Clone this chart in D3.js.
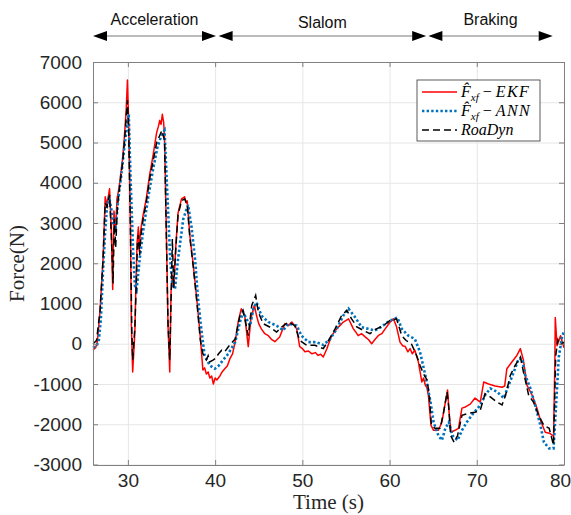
<!DOCTYPE html>
<html>
<head>
<meta charset="utf-8">
<script src="https://cdn.jsdelivr.net/npm/d3@7"></script>
<style>
  body { margin: 0; background: #fff; }
  svg { display: block; }
</style>
</head>
<body>
<div id="chart"></div>
<script>
var w = 571; // page width
var h = 515; // page height
var margin = { top: 62, right: 7, bottom: 50, left: 93 };

// tick values
var xTicks = [30, 40, 50, 60, 70, 80];
var yTicks = [-3000, -2000, -1000, 0, 1000, 2000, 3000, 4000, 5000, 6000, 7000];

// test phases shown above the plot [name, start time, end time]
var phases = [
    ["Acceleration", 26, 40.1],
    ["Slalom", 40.4, 64.2],
    ["Braking", 64.45, 78.7]
];

// F_xf estimated by EKF  [time (s), force (N)]
var ekf = [
    [26.0,-150],[26.3,-100],[26.5,50],[26.8,800],[27.15,2100],[27.4,3650],[27.6,3450],[27.9,3850],
    [28.1,2800],[28.26,1350],[28.4,3300],[28.6,2800],[28.75,3600],[29.0,3900],[29.4,4600],[29.6,5150],
    [29.8,5800],[29.95,6550],[30.1,5400],[30.3,2800],[30.4,450],[30.55,-700],[30.8,300],[30.9,1300],
    [31.05,2500],[31.2,2900],[31.3,2300],[31.45,2800],[31.75,3200],[32.1,3600],[32.5,4200],[32.9,4700],
    [33.3,5250],[33.5,5400],[33.65,5550],[33.8,5450],[33.95,5700],[34.1,5500],[34.2,5100],[34.4,2900],
    [34.6,450],[34.8,-700],[34.95,1300],[35.1,1700],[35.25,1400],[35.5,2450],[35.75,3250],[36.15,3600],
    [36.5,3650],[36.7,3500],[36.8,3550],[37.1,2700],[37.5,1950],[37.9,1100],[38.25,300],[38.6,-650],
    [38.8,-600],[39.0,-750],[39.2,-700],[39.4,-850],[39.6,-800],[39.8,-1000],[40.0,-850],[40.2,-900],
    [40.55,-800],[40.8,-700],[41.1,-620],[41.4,-550],[41.7,-370],[42.0,-250],[42.3,50],[42.65,550],
    [43.0,870],[43.4,700],[43.8,-70],[44.1,620],[44.5,950],[44.75,700],[45.0,500],[45.3,370],[45.7,250],
    [46.1,200],[46.5,100],[46.85,50],[47.4,170],[48.0,500],[48.4,450],[48.8,540],[49.35,370],[49.7,-70],
    [50.0,-120],[50.3,-200],[50.7,-180],[51.1,-250],[51.5,-220],[51.8,-290],[52.1,-260],[52.4,-330],
    [52.8,-130],[53.35,200],[53.95,370],[54.3,450],[54.7,540],[55.3,620],[55.85,370],[56.1,300],
    [56.4,200],[56.8,250],[57.2,170],[57.6,100],[57.95,0],[58.3,100],[58.7,200],[59.1,250],[59.5,370],
    [60.07,540],[60.45,620],[60.8,420],[61.2,40],[61.5,-50],[61.8,-70],[62.1,-200],[62.35,-120],
    [62.6,-250],[62.9,-160],[63.3,-450],[63.5,-700],[63.7,-950],[63.9,-850],[64.1,-1030],[64.3,-1100],
    [64.45,-1280],[64.75,-2030],[65.05,-2150],[65.6,-2150],[66.0,-1950],[66.4,-1450],[66.65,-1150],
    [66.85,-1780],[67.05,-2200],[67.5,-2150],[67.9,-2100],[68.3,-1600],[68.7,-1570],[69.25,-1500],
    [69.8,-1350],[70.4,-1450],[70.8,-950],[71.35,-1000],[72.1,-1050],[72.9,-1080],[73.2,-1050],
    [73.45,-620],[74.0,-460],[74.6,-290],[75.0,-120],[75.35,-410],[75.75,-1030],[76.35,-1280],
    [76.9,-1600],[77.3,-1900],[77.85,-2200],[78.4,-2230],[78.8,-2300],[78.95,-500],[79.0,650],
    [79.2,-50],[79.6,200],[80.0,-100]
];

// F_xf estimated by ANN
var ann = [
    [26.0,-100],[26.4,-50],[26.65,50],[26.9,600],[27.15,1800],[27.4,2800],[27.6,3400],[27.85,3650],
    [28.1,3350],[28.3,3000],[28.6,2900],[28.9,3600],[29.25,4200],[29.6,4900],[29.9,5400],[30.1,5700],
    [30.3,4150],[30.6,2300],[30.8,1450],[31.0,1350],[31.35,2100],[31.75,2800],[32.3,3600],[32.9,4350],
    [33.4,4900],[33.9,5200],[34.2,5300],[34.6,3350],[34.85,2100],[35.1,1450],[35.4,1370],[35.75,2100],
    [36.35,3100],[36.9,3450],[37.3,2900],[37.7,2100],[38.05,1100],[38.45,300],[38.8,-290],[39.4,-540],
    [39.97,-620],[40.4,-550],[40.75,-450],[41.5,-250],[42.3,40],[42.85,540],[43.2,790],[43.6,620],
    [44.0,450],[44.4,870],[44.75,1030],[45.3,700],[46.1,540],[47.05,450],[47.8,330],[48.4,500],
    [49.35,450],[49.9,200],[50.7,40],[51.6,40],[52.4,-30],[53.2,120],[53.95,370],[54.7,700],[55.3,870],
    [56.05,660],[56.8,410],[57.55,370],[58.3,330],[59.0,410],[59.8,540],[60.5,620],[60.9,650],[61.4,370],
    [62.15,200],[62.9,120],[63.5,-210],[64.1,-780],[64.7,-1450],[65.05,-1950],[65.6,-2280],[66.0,-2400],
    [66.4,-2100],[66.8,-1950],[67.2,-2280],[67.8,-2400],[68.3,-2150],[68.85,-1950],[69.6,-1730],
    [70.4,-1530],[70.95,-1280],[71.55,-1110],[72.3,-1190],[73.1,-1350],[73.65,-1030],[74.25,-700],
    [74.8,-370],[75.2,-370],[75.55,-780],[76.15,-1110],[76.7,-1530],[77.3,-2030],[77.7,-2450],
    [78.3,-2600],[78.8,-2600],[79.2,-1110],[79.4,-330],[79.8,200],[80.0,300]
];

// measured by RoaDyn wheel
var roaDyn = [
    [26.0,0],[26.4,80],[26.8,800],[27.15,2100],[27.4,3500],[27.6,3400],[27.9,3700],[28.1,2700],
    [28.3,1500],[28.45,3100],[28.6,2400],[28.8,3400],[29.0,3800],[29.4,4500],[29.6,5000],[29.8,5600],
    [29.95,6050],[30.1,5200],[30.3,2700],[30.45,300],[30.55,-400],[30.8,400],[30.95,1400],[31.1,2500],
    [31.2,2700],[31.35,2200],[31.5,2700],[31.75,3100],[32.1,3500],[32.5,4100],[32.9,4550],[33.3,5000],
    [33.6,5150],[33.9,5300],[34.2,5050],[34.4,2800],[34.6,500],[34.8,-400],[34.95,1100],[35.1,2600],
    [35.25,1400],[35.5,2400],[35.75,3200],[36.15,3550],[36.5,3600],[36.8,3450],[37.1,2650],[37.5,1900],
    [37.9,1050],[38.3,100],[38.6,-250],[39.0,-400],[39.2,-300],[39.4,-450],[39.8,-400],[40.0,-370],
    [40.4,-250],[40.75,-160],[41.1,-200],[41.5,-80],[42.3,120],[42.85,700],[43.2,830],[43.6,420],
    [43.8,200],[44.2,950],[44.65,1200],[44.95,790],[45.5,500],[46.3,410],[47.05,290],[47.6,410],
    [48.4,540],[49.15,450],[49.7,80],[50.5,-40],[51.45,-40],[52.4,-120],[53.0,80],[53.75,370],[54.5,700],
    [55.1,830],[55.65,620],[56.25,420],[57.0,330],[57.75,250],[58.5,370],[59.3,450],[60.05,580],
    [60.8,620],[61.4,200],[61.9,80],[62.5,0],[63.1,-290],[63.5,-540],[63.9,-750],[64.3,-900],
    [64.55,-1280],[64.8,-2030],[65.2,-2100],[65.8,-2100],[66.2,-1700],[66.6,-1200],[66.8,-1600],
    [67.0,-2280],[67.4,-2450],[67.8,-2280],[68.3,-1780],[69.05,-1730],[69.8,-1700],[70.4,-1650],
    [70.95,-1240],[71.55,-1320],[72.3,-1450],[72.9,-1520],[73.3,-1280],[73.85,-780],[74.4,-540],
    [75.0,-330],[75.35,-700],[75.95,-1280],[76.5,-1450],[77.1,-1780],[77.7,-2030],[78.3,-2100],
    [78.8,-2520],[79.05,-300],[79.3,100],[79.6,-30],[80.0,40]
];

var svg = d3.select("#chart")
    .append("svg")
    .attr("width", w)
    .attr("height", h);

var x0 = margin.left, x1 = w - margin.right;
var y0 = h - margin.bottom, y1 = margin.top;

var xScale = d3.scaleLinear().domain([26, 80]).range([x0, x1]);
var yScale = d3.scaleLinear().domain([-3000, 7000]).range([y0 - 0.5, y1]);

var axisColor = "#808080";
var textColor = "#262626";
var plainNumber = function(d) { return String(d); }; // ASCII hyphen for negatives

// grid lines
svg.append("g")
    .attr("transform", "translate(0," + y0 + ")")
    .call(d3.axisBottom(xScale).tickValues(xTicks).tickSize(-(y0 - y1)).tickFormat(""))
    .call(function(g) {
        g.select(".domain").remove();
        g.selectAll("line").attr("stroke", "#e6e6e6");
    });
svg.append("g")
    .attr("transform", "translate(" + x0 + ",0)")
    .call(d3.axisLeft(yScale).tickValues(yTicks).tickSize(-(x1 - x0)).tickFormat(""))
    .call(function(g) {
        g.select(".domain").remove();
        g.selectAll("line").attr("stroke", "#e6e6e6");
    });

// lines
var line = d3.line()
    .x(function(d) { return xScale(d[0]); })
    .y(function(d) { return yScale(d[1]); });

var plot = svg.append("g");

plot.append("path")
    .datum(ekf)
    .attr("fill", "none")
    .attr("stroke", "#ff0000")
    .attr("stroke-width", 1.5)
    .attr("stroke-linejoin", "round")
    .attr("d", line);

plot.append("path")
    .datum(ann)
    .attr("fill", "none")
    .attr("stroke", "#0072bd")
    .attr("stroke-width", 2.6)
    .attr("stroke-dasharray", "2.4,2.2")
    .attr("d", line);

plot.append("path")
    .datum(roaDyn)
    .attr("fill", "none")
    .attr("stroke", "#000")
    .attr("stroke-width", 1.5)
    .attr("stroke-dasharray", "7,4")
    .attr("d", line);

// axes (MATLAB-like box with inward ticks)
function styleAxis(g) {
    g.select(".domain").attr("stroke", axisColor);
    g.selectAll(".tick line").attr("stroke", axisColor);
    g.selectAll("text")
        .attr("fill", textColor)
        .style("font-family", "'Liberation Sans', Arial, sans-serif")
        .style("font-size", "19px");
}

svg.append("g")
    .attr("transform", "translate(0," + y0 + ")")
    .call(d3.axisBottom(xScale).tickValues(xTicks).tickSizeInner(-5).tickSizeOuter(0).tickPadding(9).tickFormat(plainNumber))
    .call(styleAxis)
    .call(function(g) {
        // keep the last label inside the page
        g.selectAll(".tick text").filter(function(d) { return d === 80; }).attr("dx", -4);
    });

svg.append("g")
    .attr("transform", "translate(0," + y1 + ")")
    .call(d3.axisTop(xScale).tickValues(xTicks).tickSizeInner(-5).tickSizeOuter(0).tickFormat(""))
    .call(styleAxis);

svg.append("g")
    .attr("transform", "translate(" + x0 + ",0)")
    .call(d3.axisLeft(yScale).tickValues(yTicks).tickSizeInner(-5).tickSizeOuter(0).tickPadding(11).tickFormat(plainNumber))
    .call(styleAxis);

svg.append("g")
    .attr("transform", "translate(" + x1 + ",0)")
    .call(d3.axisRight(yScale).tickValues(yTicks).tickSizeInner(-5).tickSizeOuter(0).tickFormat(""))
    .call(styleAxis);

// axis labels
svg.append("text")
    .attr("x", (x0 + x1) / 2)
    .attr("y", 509)
    .attr("text-anchor", "middle")
    .attr("fill", textColor)
    .style("font-family", "'Liberation Serif', 'DejaVu Serif', serif")
    .style("font-size", "21px")
    .text("Time (s)");

svg.append("text")
    .attr("transform", "translate(24," + ((y0 + y1) / 2) + ") rotate(-90)")
    .attr("text-anchor", "middle")
    .attr("fill", textColor)
    .style("font-family", "'Liberation Serif', 'DejaVu Serif', serif")
    .style("font-size", "21px")
    .text("Force(N)");

// phase arrows above the plot
var arrowY = 36;
var head = 14;
phases.forEach(function(p, i) {
    var a = xScale(p[1]), b = xScale(p[2]);
    var g = svg.append("g");
    g.append("line")
        .attr("x1", a + head).attr("x2", b - head)
        .attr("y1", arrowY).attr("y2", arrowY)
        .attr("stroke", "#555").attr("stroke-width", 0.8);
    g.append("path")
        .attr("d", "M" + a + "," + arrowY + "L" + (a + head) + "," + (arrowY - 5) + "L" + (a + head) + "," + (arrowY + 5) + "Z")
        .attr("fill", "#000");
    g.append("path")
        .attr("d", "M" + b + "," + arrowY + "L" + (b - head) + "," + (arrowY - 5) + "L" + (b - head) + "," + (arrowY + 5) + "Z")
        .attr("fill", "#000");
    g.append("text")
        .attr("x", (a + b) / 2)
        .attr("y", i === 1 ? 28 : 25)
        .attr("text-anchor", "middle")
        .attr("fill", "#111")
        .style("font-family", "'Liberation Sans', Arial, sans-serif")
        .style("font-size", "16px")
        .text(p[0]);
});

// legend
var legendItems = [
    { sub: true, name: "EKF", color: "#ff0000", width: 1.5, dash: null },
    { sub: true, name: "ANN", color: "#0072bd", width: 2.6, dash: "2.4,2.2" },
    { sub: false, name: "RoaDyn", color: "#000", width: 1.5, dash: "7,4" }
];

var legend = svg.append("g").attr("transform", "translate(417,80)");
legend.append("rect")
    .attr("width", 123).attr("height", 61)
    .attr("fill", "#fff")
    .attr("stroke", "#333").attr("stroke-width", 0.8);

legendItems.forEach(function(d, i) {
    var ly = 12 + i * 19;
    legend.append("line")
        .attr("x1", 5).attr("x2", 40)
        .attr("y1", ly).attr("y2", ly)
        .attr("stroke", d.color)
        .attr("stroke-width", d.width)
        .attr("stroke-dasharray", d.dash);
    var t = legend.append("text")
        .attr("x", 44).attr("y", ly + 5)
        .attr("fill", "#000")
        .style("font-family", "'Liberation Serif', 'DejaVu Serif', serif")
        .style("font-style", "italic")
        .style("font-size", "16px");
    if (d.sub) {
        t.append("tspan").text("F\u0302");
        t.append("tspan").attr("dy", 4).style("font-size", "11px").text("xf");
        t.append("tspan").attr("dy", -4).style("font-style", "normal").text(" \u2212 ");
        t.append("tspan").text(d.name.split("").join("\u200a"));
    } else {
        t.text(d.name);
    }
});
</script>
</body>
</html>
